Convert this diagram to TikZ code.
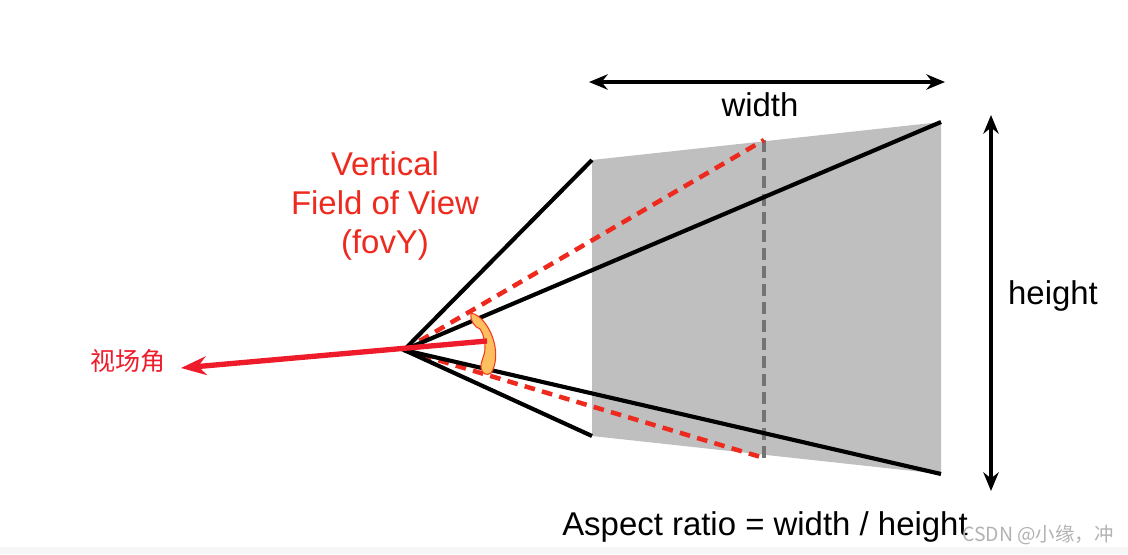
\documentclass[tikz,border=0pt]{standalone}
\usepackage{fontspec}
\setmainfont{Liberation Sans}
\newfontfamily\cjk{Noto Sans CJK SC}
\usepackage{xcolor}
\usetikzlibrary{arrows.meta, positioning, calc}
\definecolor{fovred}{HTML}{EE2A1F}
\definecolor{anglered}{HTML}{EE1C2B}
\definecolor{arcfill}{HTML}{FDBF60}
\definecolor{planegray}{HTML}{BFBFBF}

\begin{document}
\begin{tikzpicture}[
    x=0.75pt, y=-0.75pt,
    edge/.style={line width=3.1pt, black},
    dim/.style={{Stealth[length=14pt,width=11.5pt]}-{Stealth[length=14pt,width=11.5pt]}, line width=3pt, black},
    reddash/.style={line width=3.4pt, fovred, dash pattern=on 8pt off 5.5pt},
    label/.style={font=\fontsize{24.7}{29}\selectfont, align=center, inner sep=0pt}
]
    \useasboundingbox (0,0) rectangle (1128,554);
    \fill[gray!7] (0,547) rectangle (1128,554);

    \coordinate (apex) at (404,350);
    \coordinate (neartop) at (592,160);
    \coordinate (farTop) at (941,122);
    \coordinate (farBot) at (941,474);
    \coordinate (nearbot) at (592,436);
    \coordinate (midtop) at (764,140);
    \coordinate (midbot) at (764,458);

    \fill[planegray] (neartop) -- (farTop) -- (farBot) -- (nearbot) -- cycle;

    \draw[line width=3.6pt, color=black!55, dash pattern=on 9pt off 4.5pt] (midtop) -- (midbot);
    \draw[reddash] (apex) -- (midtop);
    \draw[reddash] (apex) -- (midbot);
    \draw[edge] (neartop) -- (apex) -- (nearbot);
    \draw[edge] (apex) -- (farTop);
    \draw[edge] (apex) -- (farBot);

    % angle mark
    \filldraw[fill=arcfill, draw=fovred!80!orange, line width=0.8pt]
        (471,313) .. controls (482,315) and (491,330) .. (494,342)
        .. controls (497,353) and (496,366) .. (491,373)
        .. controls (487,376) and (482,374) .. (481,368)
        .. controls (480,362) and (485,356) .. (485,348)
        .. controls (485,340) and (483,333) .. (480,329)
        .. controls (475,327) and (470,322) .. (471,313) -- cycle;

    \coordinate (angletail) at (487,341);
    \coordinate (angletip) at (181,368);
    \draw[-{Stealth[length=19pt,width=14pt]}, line width=4pt, anglered] (angletail) -- (angletip);

    \coordinate (wl) at (589,82);
    \coordinate (wr) at (945,82);
    \coordinate (ht) at (991,115);
    \coordinate (hb) at (991,491);
    \draw[dim] (wl) -- (wr);
    \draw[dim] (ht) -- (hb);

    \node[label] (widthlabel) at (760,105) {width};
    \node[label] (heightlabel) at (1053,296) {height};
    \node[label, text=fovred] (fovlabel) at (385,206) {Vertical\\Field of View\\(fovY)};
    \node[font=\cjk\fontsize{18.8}{22}\selectfont, text=anglered, inner sep=0pt] (anglelabel) at (128,361) {视场角};
    \node[label] (ratiolabel) at (765,527) {Aspect ratio = width / height};
    \node[font=\cjk\fontsize{14.6}{16}\selectfont, text=black!30, inner sep=0pt, anchor=east] (mark) at (1114,535) {CSDN @小缘，冲};
\end{tikzpicture}
\end{document}
